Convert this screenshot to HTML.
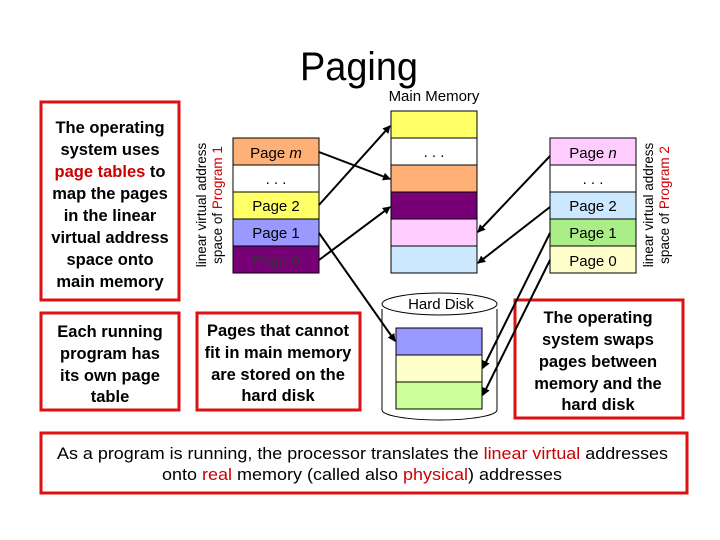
<!DOCTYPE html>
<html><head><meta charset="utf-8"><style>
body{margin:0;background:#fff;}
svg{display:block;font-family:"Liberation Sans",Arial,sans-serif;}
</style></head><body>
<svg width="720" height="540" viewBox="0 0 720 540" xmlns="http://www.w3.org/2000/svg">
<defs><marker id="a" markerWidth="8" markerHeight="8" refX="7" refY="4" orient="auto" markerUnits="userSpaceOnUse"><path d="M0,0 L8,4 L0,8 z" fill="#000"/></marker></defs>
<text x="359" y="80" font-size="40" text-anchor="middle" textLength="118" lengthAdjust="spacingAndGlyphs">Paging</text>
<text x="434" y="101" font-size="15" text-anchor="middle">Main Memory</text>

<g fill="none" stroke="#d11" stroke-width="3">
<rect x="41" y="102" width="138" height="198"/>
<rect x="41" y="313" width="138" height="97"/>
<rect x="197" y="313" width="163" height="97"/>
<rect x="515" y="300" width="168" height="118"/>
<rect x="41" y="433" width="646" height="60"/>
</g>
<g font-size="16.5" text-anchor="middle" font-weight="bold">
<text x="110" y="133">The operating</text>
<text x="110" y="155">system uses</text>
<text x="110" y="177"><tspan fill="#c00">page tables</tspan> to</text>
<text x="110" y="199">map the pages</text>
<text x="110" y="221">in the linear</text>
<text x="110" y="243">virtual address</text>
<text x="110" y="265">space onto</text>
<text x="110" y="287">main memory</text>
<text x="110" y="337">Each running</text>
<text x="110" y="359">program has</text>
<text x="110" y="381">its own page</text>
<text x="110" y="402">table</text>
<text x="278" y="336">Pages that cannot</text>
<text x="278" y="358">fit in main memory</text>
<text x="278" y="380">are stored on the</text>
<text x="278" y="401">hard disk</text>
<text x="598" y="323">The operating</text>
<text x="598" y="345">system swaps</text>
<text x="598" y="367">pages between</text>
<text x="598" y="389">memory and the</text>
<text x="598" y="410">hard disk</text>
</g>
<g font-size="17">
<text x="57" y="459" textLength="611" lengthAdjust="spacingAndGlyphs">As a program is running, the processor translates the <tspan fill="#c00">linear virtual</tspan> addresses</text>
<text x="162" y="480" textLength="400" lengthAdjust="spacingAndGlyphs">onto <tspan fill="#c00">real</tspan> memory (called also <tspan fill="#c00">physical</tspan>) addresses</text>
</g>

<g font-size="13.5" text-anchor="middle">
<text transform="translate(206,205) rotate(-90)">linear virtual address</text>
<text transform="translate(222,205) rotate(-90)">space of <tspan fill="#c00">Program 1</tspan></text>
<text transform="translate(653,205) rotate(-90)">linear virtual address</text>
<text transform="translate(669,205) rotate(-90)">space of <tspan fill="#c00">Program 2</tspan></text>
</g>

<g stroke="#000" stroke-width="1">
<rect x="233" y="138" width="86" height="27" fill="#ffb077"/>
<rect x="233" y="165" width="86" height="27" fill="#fff"/>
<rect x="233" y="192" width="86" height="27" fill="#ffff66"/>
<rect x="233" y="219" width="86" height="27" fill="#9999ff"/>
<rect x="233" y="246" width="86" height="27" fill="#770077"/>
</g>
<g font-size="15" text-anchor="middle">
<text x="276" y="158">Page <tspan font-style="italic">m</tspan></text>
<text x="276" y="184">. . .</text>
<text x="276" y="211">Page 2</text>
<text x="276" y="238">Page 1</text>
<text x="276" y="266" fill="#333">Page 0</text>
</g>

<g stroke="#000" stroke-width="1">
<rect x="391" y="111" width="86" height="27" fill="#ffff66"/>
<rect x="391" y="138" width="86" height="27" fill="#fff"/>
<rect x="391" y="165" width="86" height="27" fill="#ffb077"/>
<rect x="391" y="192" width="86" height="27" fill="#770077"/>
<rect x="391" y="219" width="86" height="27" fill="#ffccff"/>
<rect x="391" y="246" width="86" height="27" fill="#cce8ff"/>
</g>
<text x="434" y="157" font-size="15" text-anchor="middle">. . .</text>

<g stroke="#000" stroke-width="1">
<rect x="550" y="138" width="86" height="27" fill="#ffccff"/>
<rect x="550" y="165" width="86" height="27" fill="#fff"/>
<rect x="550" y="192" width="86" height="27" fill="#cce8ff"/>
<rect x="550" y="219" width="86" height="27" fill="#aaee88"/>
<rect x="550" y="246" width="86" height="27" fill="#ffffcc"/>
</g>
<g font-size="15" text-anchor="middle">
<text x="593" y="158">Page <tspan font-style="italic">n</tspan></text>
<text x="593" y="184">. . .</text>
<text x="593" y="211">Page 2</text>
<text x="593" y="238">Page 1</text>
<text x="593" y="266">Page 0</text>
</g>

<path d="M382,309 L382,410 A57.5,10 0 0 0 497,410 L497,309" fill="#fff" stroke="#000"/>
<ellipse cx="439.5" cy="304" rx="57.5" ry="11" fill="#fff" stroke="#000"/>
<text x="441" y="309" font-size="15" text-anchor="middle">Hard Disk</text>
<g stroke="#000" stroke-width="1">
<rect x="396" y="328" width="86" height="27" fill="#9999ff"/>
<rect x="396" y="355" width="86" height="27" fill="#ffffcc"/>
<rect x="396" y="382" width="86" height="27" fill="#ccff99"/>
</g>

<g stroke="#000" stroke-width="2" marker-end="url(#a)">
<line x1="319" y1="152" x2="390" y2="179"/>
<line x1="319" y1="205" x2="390" y2="126"/>
<line x1="319" y1="260" x2="390" y2="207"/>
<line x1="319" y1="233" x2="395" y2="341"/>
<line x1="550" y1="156" x2="478" y2="232"/>
<line x1="550" y1="207" x2="478" y2="263"/>
<line x1="550" y1="233" x2="483" y2="368"/>
<line x1="550" y1="260" x2="483" y2="395"/>
</g>
</svg>
</body></html>
